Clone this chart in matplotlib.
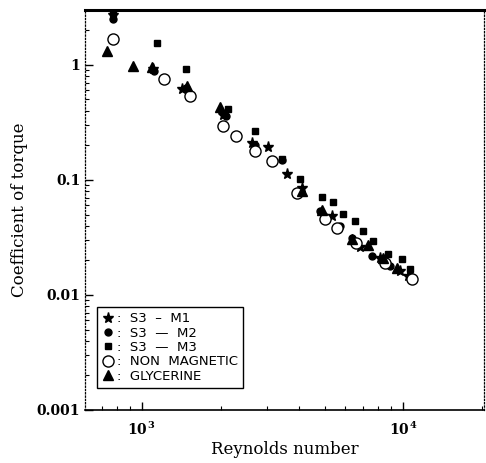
import matplotlib
matplotlib.use("Agg")
import matplotlib.pyplot as plt
import numpy as np

plt.rcParams["font.family"] = ["DejaVu Serif"]
plt.rcParams["mathtext.fontset"] = "dejavuserif"

m1_re = [774, 1100, 1420, 2040, 2640, 3040, 3590, 4100, 5350, 6840, 8160, 9740, 10450]
m1_ct = [2.7, 0.92, 0.62, 0.37, 0.21, 0.194, 0.113, 0.085, 0.049, 0.026, 0.021, 0.016, 0.0145]

m2_re = [774, 1110, 1470, 2100, 2700, 3440, 4800, 5740, 6380, 7610, 8900, 10640]
m2_ct = [2.5, 0.88, 0.63, 0.36, 0.20, 0.15, 0.054, 0.040, 0.031, 0.022, 0.018, 0.0145]

m3_re = [774, 1141, 1474, 2136, 2711, 3437, 4030, 4895, 5393, 5890, 6548, 7026, 7680, 8760, 9911, 10640]
m3_ct = [2.8, 1.55, 0.92, 0.41, 0.267, 0.152, 0.102, 0.071, 0.064, 0.0506, 0.044, 0.036, 0.0295, 0.0227, 0.0206, 0.0168]

nm_re = [774, 1214, 1527, 2043, 2293, 2711, 3148, 3926, 5000, 5600, 6600, 8500, 10820]
nm_ct = [1.68, 0.76, 0.54, 0.295, 0.241, 0.179, 0.146, 0.077, 0.046, 0.038, 0.028, 0.019, 0.0138]

gl_re = [734, 924, 1090, 1487, 1990, 4101, 4900, 6379, 7300, 8400, 9500]
gl_ct = [1.32, 0.98, 0.95, 0.66, 0.43, 0.080, 0.055, 0.0307, 0.027, 0.021, 0.017]

fig = plt.figure(figsize=(4.86, 4.63), dpi=100)
ax = fig.add_axes([0.175, 0.1145, 0.821, 0.864])

ax.plot(m1_re, m1_ct, "*", color="black", ms=8, ls="none", clip_on=False, label=":  S3  \u2013  M1")
ax.plot(m2_re, m2_ct, "o", color="black", ms=5, ls="none", clip_on=False, label=":  S3  \u2014  M2")
ax.plot(m3_re, m3_ct, "s", color="black", ms=4.5, ls="none", clip_on=False, label=":  S3  \u2014  M3")
ax.plot(nm_re, nm_ct, "o", mfc="white", mec="black", mew=1.0, ms=8, ls="none",
        label=":  NON  MAGNETIC")
ax.plot(gl_re, gl_ct, "^", color="black", ms=7, ls="none", label=":  GLYCERINE")

ax.set_xscale("log")
ax.set_yscale("log")
ax.set_xlim(605, 20400)
ax.set_ylim(0.001, 3.0)

ax.set_yticks([0.001, 0.01, 0.1, 1])
ax.set_yticklabels(["0.001", "0.01", "0.1", "1"], fontweight="bold", fontsize=10)
ax.set_xticks([1e3, 1e4])
ax.set_xticklabels([r"$\mathbf{10^{\,3}}$", r"$\mathbf{10^{\,4}}$"], fontsize=10)
ax.tick_params(which="both", direction="in")
ax.tick_params(which="major", length=6, width=1)
ax.tick_params(which="minor", length=3, width=0.8)
ax.tick_params(axis="x", pad=8)

ax.spines["left"].set_linestyle(":")
ax.spines["left"].set_linewidth(0.9)
ax.spines["right"].set_linestyle(":")
ax.spines["right"].set_linewidth(0.9)
ax.spines["top"].set_linewidth(2.2)
ax.spines["bottom"].set_linewidth(1.2)

ax.set_xlabel("Reynolds number", fontsize=12, labelpad=2)
ax.set_ylabel("Coefficient of torque", fontsize=12, labelpad=6)

leg = ax.legend(loc="lower left", bbox_to_anchor=(0.03, 0.055), borderaxespad=0,
                fancybox=False, edgecolor="black", framealpha=1,
                handlelength=0.8, handletextpad=0.3, labelspacing=0.1,
                borderpad=0.4, prop={"family": "DejaVu Sans", "size": 9.5})
leg.get_frame().set_linewidth(1.0)

fig.savefig("out.png", dpi=100)
